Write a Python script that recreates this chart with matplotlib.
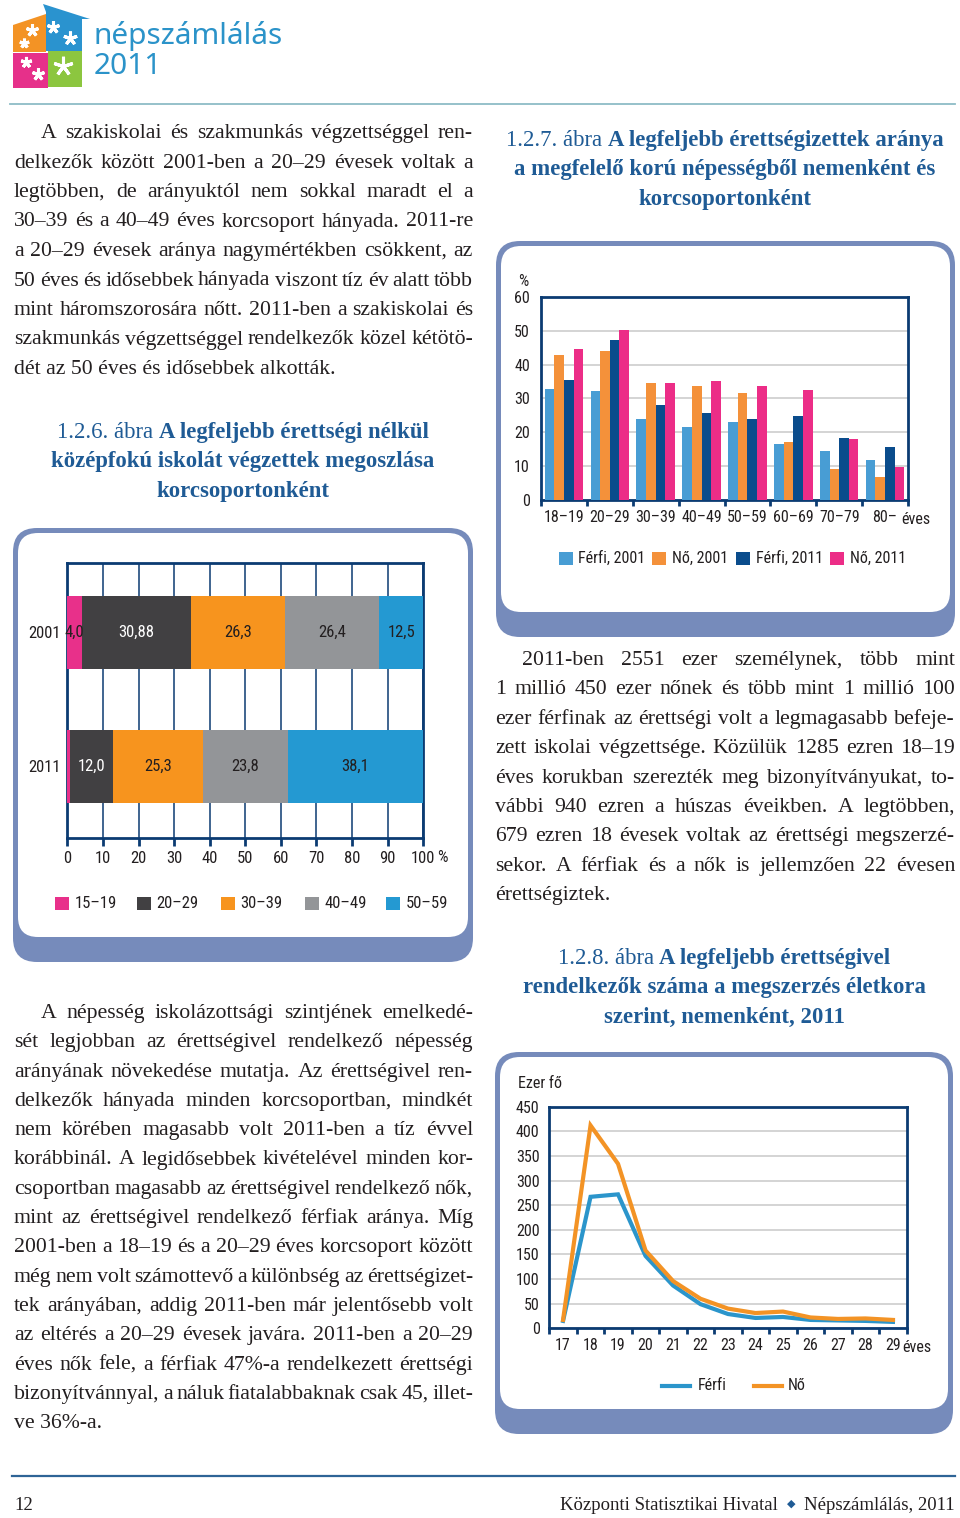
import matplotlib
matplotlib.use('Agg')
import matplotlib.pyplot as plt
from matplotlib.patches import FancyBboxPatch, Polygon, Rectangle
from matplotlib.lines import Line2D
import numpy as np

plt.rcParams['font.family'] = ['Roboto Condensed', 'DejaVu Sans']
plt.rcParams['font.stretch'] = 'condensed'

# ---------------- data ----------------
fig6_years = ['2001', '2011']
fig6_groups = ['15–19', '20–29', '30–39', '40–49', '50–59']
fig6_2001 = [4.0, 30.88, 26.3, 26.4, 12.5]
fig6_2011 = [0.8, 12.0, 25.3, 23.8, 38.1]
fig6_lab_2001 = ['4,0', '30,88', '26,3', '26,4', '12,5']
fig6_lab_2011 = ['', '12,0', '25,3', '23,8', '38,1']
fig6_ticks = [0, 10, 20, 30, 40, 50, 60, 70, 80, 90, 100]

fig7_groups = ['18–19', '20–29', '30–39', '40–49', '50–59', '60–69', '70–79', '80–']
fig7_series = ['Férfi, 2001', 'Nő, 2001', 'Férfi, 2011', 'Nő, 2011']
ferfi_2001 = [32.8, 32.3, 23.8, 21.7, 23.2, 16.5, 14.5, 11.9]
no_2001 = [42.9, 44.0, 34.6, 33.7, 31.7, 17.1, 9.1, 6.7]
ferfi_2011 = [35.5, 47.2, 28.1, 25.6, 23.8, 24.8, 18.4, 15.7]
no_2011 = [44.7, 50.2, 34.6, 35.2, 33.6, 32.4, 18.0, 9.7]
fig7_yticks = [0, 10, 20, 30, 40, 50, 60]

fig8_ages = [17, 18, 19, 20, 21, 22, 23, 24, 25, 26, 27, 28, 29]
fig8_ferfi = [15, 267, 272, 147, 87, 49, 29, 21, 23, 17, 16, 15, 13]
fig8_no = [17, 412, 334, 158, 96, 60, 40, 31, 34, 22, 19, 20, 17]
fig8_series = ['Férfi', 'Nő']
fig8_yticks = [0, 50, 100, 150, 200, 250, 300, 350, 400, 450]

# ---------------- texts ----------------
para1 = [
    "A szakiskolai és szakmunkás végzettséggel ren-",
    "delkezők között 2001-ben a 20–29 évesek voltak a",
    "legtöbben, de arányuktól nem sokkal maradt el a",
    "30–39 és a 40–49 éves korcsoport hányada. 2011-re",
    "a 20–29 évesek aránya nagymértékben csökkent, az",
    "50 éves és idősebbek hányada viszont tíz év alatt több",
    "mint háromszorosára nőtt. 2011-ben a szakiskolai és",
    "szakmunkás végzettséggel rendelkezők közel kétötö-",
    "dét az 50 éves és idősebbek alkották.",
]
para2 = [
    "2011-ben 2551 ezer személynek, több mint",
    "1 millió 450 ezer nőnek és több mint 1 millió 100",
    "ezer férfinak az érettségi volt a legmagasabb befeje-",
    "zett iskolai végzettsége. Közülük 1285 ezren 18–19",
    "éves korukban szerezték meg bizonyítványukat, to-",
    "vábbi 940 ezren a húszas éveikben. A legtöbben,",
    "679 ezren 18 évesek voltak az érettségi megszerzé-",
    "sekor. A férfiak és a nők is jellemzően 22 évesen",
    "érettségiztek.",
]
para3 = [
    "A népesség iskolázottsági szintjének emelkedé-",
    "sét legjobban az érettségivel rendelkező népesség",
    "arányának növekedése mutatja. Az érettségivel ren-",
    "delkezők hányada minden korcsoportban, mindkét",
    "nem körében magasabb volt 2011-ben a tíz évvel",
    "korábbinál. A legidősebbek kivételével minden kor-",
    "csoportban magasabb az érettségivel rendelkező nők,",
    "mint az érettségivel rendelkező férfiak aránya. Míg",
    "2001-ben a 18–19 és a 20–29 éves korcsoport között",
    "még nem volt számottevő a különbség az érettségizet-",
    "tek arányában, addig 2011-ben már jelentősebb volt",
    "az eltérés a 20–29 évesek javára. 2011-ben a 20–29",
    "éves nők fele, a férfiak 47%-a rendelkezett érettségi",
    "bizonyítvánnyal, a náluk fiatalabbaknak csak 45, illet-",
    "ve 36%-a.",
]
title6 = [[("1.2.6. ábra ", 'normal'), ("A legfeljebb érettségi nélkül", 'bold')],
          [("középfokú iskolát végzettek megoszlása", 'bold')],
          [("korcsoportonként", 'bold')]]
title7 = [[("1.2.7. ábra ", 'normal'), ("A legfeljebb érettségizettek aránya", 'bold')],
          [("a megfelelő korú népességből nemenként és", 'bold')],
          [("korcsoportonként", 'bold')]]
title8 = [[("1.2.8. ábra ", 'normal'), ("A legfeljebb érettségivel", 'bold')],
          [("rendelkezők száma a megszerzés életkora", 'bold')],
          [("szerint, nemenként, 2011", 'bold')]]

# ---------------- styles ----------------
W, H = 960, 1518
NAVY = '#0b3b72'
DARK = '#231f20'
TITLE_BLUE = '#1f5b95'
PANEL = '#768bbb'
GRID = '#c9c9c9'
SERIF = ['Liberation Serif', 'DejaVu Serif']
c6 = ['#e8308a', '#414042', '#f7941e', '#939598', '#2499d2']
c7 = ['#489dd4', '#f4913a', '#0a4c8c', '#ec2d87']
c8 = ['#2b95cb', '#f39325']
CH = 11.5    # chart tick / legend font size
CHV = 12     # value labels in the stacked bars

fig = plt.figure(figsize=(W / 100, H / 100), dpi=100)
fig.patch.set_facecolor('white')
bg = fig.add_axes([0, 0, 1, 1])
bg.set_xlim(0, W)
bg.set_ylim(H, 0)
bg.axis('off')
renderer = fig.canvas.get_renderer()


def px_rect(x0, y0, x1, y1):
    return [x0 / W, 1 - y1 / H, (x1 - x0) / W, (y1 - y0) / H]


def twidth(s, **kw):
    t = bg.text(0, 0, s, **kw)
    w = t.get_window_extent(renderer=renderer).width
    t.remove()
    return w


def panel(x0, y0, x1, y1, side=5, bottom=25, r=24):
    bg.add_patch(FancyBboxPatch((x0, y0), x1 - x0, y1 - y0,
                                boxstyle=f"round,pad=0,rounding_size={r}",
                                fc=PANEL, ec='none', zorder=1))
    bg.add_patch(FancyBboxPatch((x0 + side, y0 + side), x1 - x0 - 2 * side,
                                y1 - y0 - side - bottom,
                                boxstyle=f"round,pad=0,rounding_size={r - 4}",
                                fc='white', ec='none', zorder=2))


# ---------------- body text ----------------
body_kw = dict(family=SERIF, color=DARK, stretch='normal')
base = 14.0
ratios = []
for par, x0, x1 in [(para1, 14, 473), (para2, 495, 955), (para3, 14, 473)]:
    for i, line in enumerate(par[:-1]):
        xs = x0 + (27 if i == 0 else 0)
        ratios.append((x1 - xs) / twidth(line, fontsize=base, **body_kw))
BODY = base * min(ratios) * 1.03


def paragraph(lines, x0, x1, y0, dy, indent=27):
    for i, line in enumerate(lines):
        y = y0 + i * dy
        xs = x0 + (indent if i == 0 else 0)
        words = line.split(' ')
        if i == len(lines) - 1 or len(words) == 1:
            bg.text(xs, y, line, fontsize=BODY, va='baseline', ha='left', **body_kw)
            continue
        ws = [twidth(w, fontsize=BODY, **body_kw) for w in words]
        gap = (x1 - xs - sum(ws)) / (len(words) - 1)
        x = xs
        for w, wd in zip(words, ws):
            bg.text(x, y, w, fontsize=BODY, va='baseline', ha='left', **body_kw)
            x += wd + gap


paragraph(para1, 14, 473, 138, 29.5)
paragraph(para2, 495, 955, 665, 29.4)
paragraph(para3, 14, 473, 1018, 29.3)

# titles
tkw = dict(family=SERIF, stretch='normal')
tbase = 15.0
TSIZE = tbase * 440 / (twidth(title7[0][0][0], fontsize=tbase, **tkw) +
                       twidth(title7[0][1][0], fontsize=tbase, weight='bold', **tkw))


def title(lines, xc, y0, dy):
    for i, runs in enumerate(lines):
        ws = [twidth(s, fontsize=TSIZE, weight=wt, **tkw) for s, wt in runs]
        x = xc - sum(ws) / 2
        for (s, wt), wd in zip(runs, ws):
            bg.text(x, y0 + i * dy, s, fontsize=TSIZE, weight=wt,
                    color=TITLE_BLUE, va='baseline', ha='left', **tkw)
            x += wd


title(title6, 243, 438, 29.5)
title(title7, 725, 146, 29.5)
title(title8, 724, 964, 29.5)

# ---------------- header / footer ----------------
bg.add_line(Line2D([10, 955], [104, 104], color='#8dbcc6', lw=1.3))
bg.add_line(Line2D([12, 955], [1476, 1476], color='#2e6496', lw=1.6))
bg.text(14, 1510, '12', fontsize=13.5, va='baseline', ha='left', **body_kw)
t_right = 'Népszámlálás, 2011'
bg.text(955, 1510, t_right, fontsize=13.5, va='baseline', ha='right', **body_kw)
wr = twidth(t_right, fontsize=13.5, **body_kw)
bg.text(955 - wr - 9, 1507, '◆', fontsize=8, va='baseline', ha='right',
        family='DejaVu Sans', stretch='normal', color='#1f5b95')
bg.text(955 - wr - 26, 1510, 'Központi Statisztikai Hivatal', fontsize=13.5,
        va='baseline', ha='right', **body_kw)

# logo
bg.add_patch(Polygon([[13, 25], [46, 14], [46, 52], [13, 52]], fc='#f39325', ec='none'))
bg.add_patch(Polygon([[43, 4], [90, 19], [82, 19], [82, 51], [46, 51], [46, 12]],
                     fc='#2a93cf', ec='none'))
bg.add_patch(Rectangle((13, 53), 35, 35, fc='#e6308a', ec='none'))
bg.add_patch(Rectangle((48, 51), 34, 36, fc='#8cc63f', ec='none'))
for (fx, fy, fs) in [(32, 30, 9), (24, 43, 7), (53, 27, 9), (70, 38, 10),
                     (26, 62, 8), (38, 74, 9), (63, 66, 14)]:
    bg.plot([fx], [fy], marker=(5, 2, 0), ms=fs, color='white', mew=2.2)
bg.text(94, 36, 'népszámlálás', fontsize=21.5, color='#2b93c9', family='Noto Sans',
        stretch='normal', weight='medium', va='center', ha='left')
bg.text(94, 67, '2011', fontsize=21.5, color='#2b93c9', family='Noto Sans',
        stretch='normal', weight='medium', va='center', ha='left')

# ---------------- panels ----------------
panel(13, 528, 473, 962)
panel(496, 241, 955, 637)
panel(495, 1052, 953, 1434)

# ---------------- chart 1.2.6 (stacked horizontal) ----------------
ax6 = fig.add_axes(px_rect(67.3, 563.3, 423.3, 838.3))
ypos = [1, 0]
for yy, vals, labs in zip(ypos, [fig6_2001, fig6_2011], [fig6_lab_2001, fig6_lab_2011]):
    lefts = np.concatenate([[0], np.cumsum(vals)[:-1]])
    ax6.barh([yy] * len(vals), vals, left=lefts, height=0.55, color=c6, zorder=3)
    for j, (l, v, lab) in enumerate(zip(lefts, vals, labs)):
        if lab:
            ax6.text(l + v / 2, yy, lab, ha='center', va='center', fontsize=CHV,
                     color='white' if j == 1 else DARK, zorder=4)
ax6.set_xlim(0, 100)
ax6.set_ylim(-0.538, 1.517)
ax6.set_xticks(fig6_ticks)
ax6.set_xticklabels([str(t) for t in fig6_ticks])
ax6.set_yticks(ypos)
ax6.set_yticklabels(fig6_years)
ax6.grid(axis='x', color=NAVY, lw=1.1, zorder=1)
ax6.tick_params(axis='x', direction='out', length=6, width=2, color=NAVY,
                labelsize=CHV, pad=3, labelcolor=DARK)
ax6.tick_params(axis='y', length=0, labelsize=CHV, pad=5, labelcolor=DARK)
for s in ax6.spines.values():
    s.set_color(NAVY)
    s.set_linewidth(2)
bg.text(437, 858, '%', fontsize=CHV, va='center', ha='left', color=DARK)
for g, col, sx in zip(fig6_groups, c6, [55, 137, 221, 305, 386]):
    bg.add_patch(Rectangle((sx, 896.5), 13.5, 13.5, fc=col, ec='none', zorder=3))
    bg.text(sx + 19.5, 903.5, g, fontsize=CHV, va='center', ha='left', color=DARK, zorder=3)

# ---------------- chart 1.2.7 (grouped bars) ----------------
ax7 = fig.add_axes(px_rect(541, 297, 908, 500))
x = np.arange(len(fig7_groups))
w = 0.21
for k, (vals, col) in enumerate(zip([ferfi_2001, no_2001, ferfi_2011, no_2011], c7)):
    ax7.bar(x + (k - 1.5) * w, vals, w, color=col, zorder=3, label=fig7_series[k])
ax7.set_ylim(0, 60)
ax7.set_xlim(-0.5, len(fig7_groups) - 0.5)
ax7.set_yticks(fig7_yticks)
ax7.set_yticklabels([str(t) for t in fig7_yticks])
ax7.grid(axis='y', color=GRID, lw=1.1, zorder=1)
ax7.set_xticks(x)
ax7.set_xticklabels(fig7_groups)
ax7.set_xticks(np.arange(-0.5, len(fig7_groups), 1), minor=True)
ax7.tick_params(axis='x', which='major', length=0, labelsize=CH, pad=7, labelcolor=DARK)
ax7.tick_params(axis='x', which='minor', direction='out', length=4, width=2, color=NAVY)
ax7.tick_params(axis='y', length=0, labelsize=CH, pad=8, labelcolor=DARK)
for s in ax7.spines.values():
    s.set_color(NAVY)
    s.set_linewidth(2)
bg.text(518, 281, '%', fontsize=CH, va='center', ha='left', color=DARK, zorder=3)
bg.text(901, 519, 'éves', fontsize=CH, va='center', ha='left', color=DARK, zorder=3)
for lab, col, sx, tx in zip(fig7_series, c7, [559, 652, 736, 830], [578, 672, 756, 850]):
    bg.add_patch(Rectangle((sx, 551.5), 14, 13.5, fc=col, ec='none', zorder=3))
    bg.text(tx, 558, lab, fontsize=CH, va='center', ha='left', color=DARK, zorder=3)

# ---------------- chart 1.2.8 (lines) ----------------
ax8 = fig.add_axes(px_rect(549.3, 1106.7, 906.7, 1328.3))
ax8.plot(fig8_ages, fig8_ferfi, color=c8[0], lw=3.0, zorder=3, solid_joinstyle='miter')
ax8.plot(fig8_ages, fig8_no, color=c8[1], lw=3.0, zorder=3, solid_joinstyle='miter')
ax8.set_ylim(0, 450)
ax8.set_xlim(fig8_ages[0] - 0.5, fig8_ages[-1] + 0.5)
ax8.set_yticks(fig8_yticks)
ax8.set_yticklabels([str(t) for t in fig8_yticks])
ax8.grid(axis='y', color=GRID, lw=1.1, zorder=1)
ax8.set_xticks(fig8_ages)
ax8.set_xticklabels([str(a) for a in fig8_ages])
ax8.set_xticks(np.arange(fig8_ages[0] - 0.5, fig8_ages[-1] + 1, 1), minor=True)
ax8.tick_params(axis='x', which='major', length=0, labelsize=CH, pad=7, labelcolor=DARK)
ax8.tick_params(axis='x', which='minor', direction='out', length=4, width=2, color=NAVY)
ax8.tick_params(axis='y', length=0, labelsize=CH, pad=7, labelcolor=DARK)
for s in ax8.spines.values():
    s.set_color(NAVY)
    s.set_linewidth(2)
bg.text(518, 1084, 'Ezer fő', fontsize=CH, va='center', ha='left', color=DARK, zorder=3)
bg.text(902, 1348, 'éves', fontsize=CH, va='center', ha='left', color=DARK, zorder=3)
for lab, col, lx, tx in zip(fig8_series, c8, [662, 754], [698, 788]):
    bg.add_line(Line2D([lx, lx + 28], [1386, 1386], color=col, lw=3.0, zorder=3))
    bg.text(tx, 1386, lab, fontsize=CH, va='center', ha='left', color=DARK, zorder=3)

fig.savefig('out.png', dpi=100, facecolor='white')
